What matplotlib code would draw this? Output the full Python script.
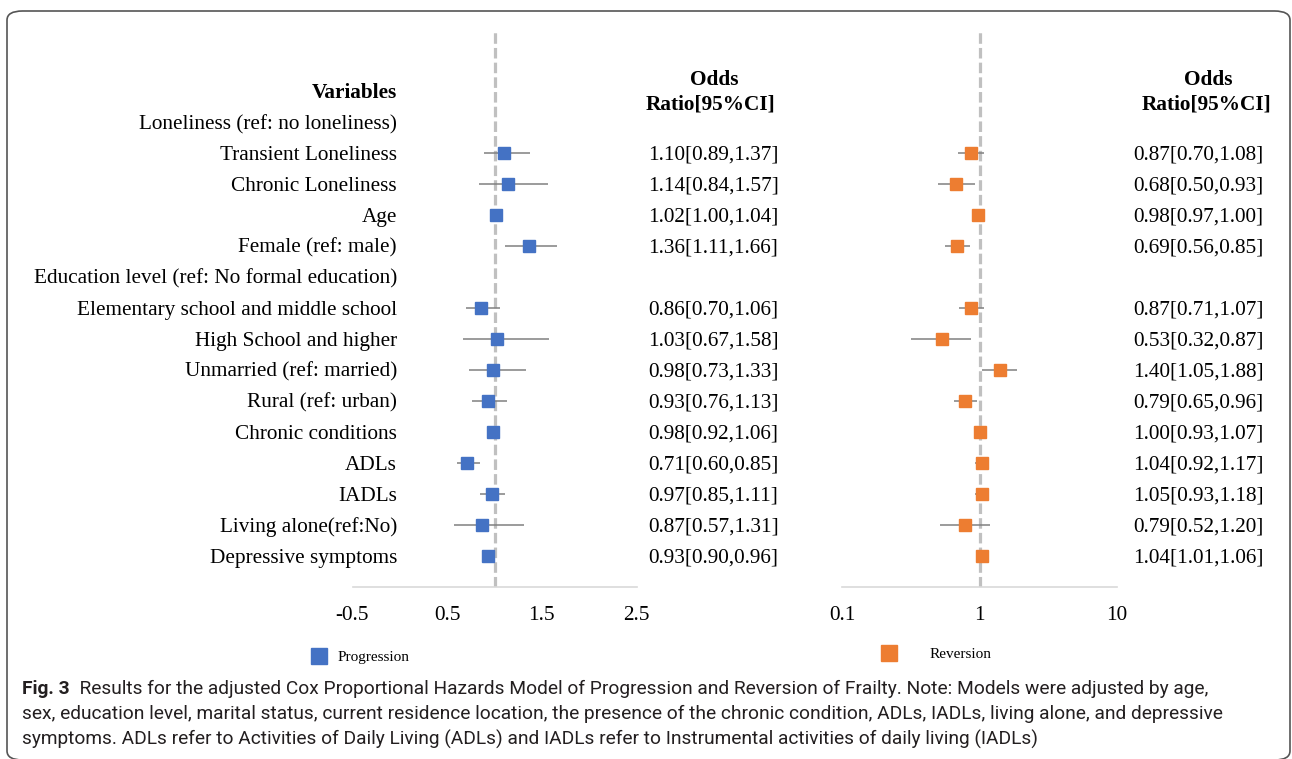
import numpy as np
import matplotlib.pyplot as plt
import matplotlib.transforms as mtransforms
from matplotlib.patches import FancyBboxPatch

plt.rcParams['font.family'] = ['Liberation Serif', 'DejaVu Serif']

variables = ['Loneliness (ref: no loneliness)', 'Transient Loneliness',
             'Chronic Loneliness', 'Age', 'Female (ref: male)',
             'Education level (ref: No formal education)',
             'Elementary school and middle school', 'High School and higher',
             'Unmarried (ref: married)', 'Rural (ref: urban)',
             'Chronic conditions', 'ADLs', 'IADLs', 'Living alone(ref:No)',
             'Depressive symptoms']

nan = np.nan
prog_or = [nan, 1.10, 1.14, 1.02, 1.36, nan, 0.86, 1.03, 0.98, 0.93, 0.98, 0.71, 0.97, 0.87, 0.93]
prog_lo = [nan, 0.89, 0.84, 1.00, 1.11, nan, 0.70, 0.67, 0.73, 0.76, 0.92, 0.60, 0.85, 0.57, 0.90]
prog_hi = [nan, 1.37, 1.57, 1.04, 1.66, nan, 1.06, 1.58, 1.33, 1.13, 1.06, 0.85, 1.11, 1.31, 0.96]

rev_or = [nan, 0.87, 0.68, 0.98, 0.69, nan, 0.87, 0.53, 1.40, 0.79, 1.00, 1.04, 1.05, 0.79, 1.04]
rev_lo = [nan, 0.70, 0.50, 0.97, 0.56, nan, 0.71, 0.32, 1.05, 0.65, 0.93, 0.92, 0.93, 0.52, 1.01]
rev_hi = [nan, 1.08, 0.93, 1.00, 0.85, nan, 1.07, 0.87, 1.88, 0.96, 1.07, 1.17, 1.18, 1.20, 1.06]

left_ticks = [-0.5, 0.5, 1.5, 2.5]
right_ticks = [0.1, 1, 10]

caption = [
    'Results for the adjusted Cox Proportional Hazards Model of Progression and Reversion of Frailty. '
    'Note: Models were adjusted by age,',
    'sex, education level, marital status, current residence location, the presence of the chronic condition, '
    'ADLs, IADLs, living alone, and depressive',
    'symptoms. ADLs refer to Activities of Daily Living (ADLs) and IADLs refer to Instrumental activities '
    'of daily living (IADLs)',
]

BLUE = '#4472C4'
ORANGE = '#ED7D31'
W, H = 1292, 759


def px(x0, y0, x1, y1):
    return [x0 / W, 1 - y1 / H, (x1 - x0) / W, (y1 - y0) / H]


def fmt(o, l, h):
    return f'{o:.2f}[{l:.2f},{h:.2f}]'


fig = plt.figure(figsize=(W / 100, H / 100), dpi=100)

# rounded frame around the figure (bottom edge runs off the image)
fig.patches.append(FancyBboxPatch((7 / W, 1 - 760 / H), 1283 / W, 749 / H,
                                  boxstyle='round,pad=0,rounding_size=0.012',
                                  transform=fig.transFigure, fill=False,
                                  edgecolor='#555555', linewidth=1.2))

ax1 = fig.add_axes(px(352.5, 31, 636.5, 587))
ax2 = fig.add_axes(px(842, 31, 1117, 587))

y = np.arange(1, len(variables) + 1)
fs = 15.3
dy = 0.07  # nudge text down a little to sit on the marker rows

for ax, o, lo, hi, color in [(ax1, prog_or, prog_lo, prog_hi, BLUE),
                             (ax2, rev_or, rev_lo, rev_hi, ORANGE)]:
    o, lo, hi = map(np.array, (o, lo, hi))
    ax.axvline(1, color='#C0C0C0', lw=2.3, ls=(0, (3.3, 1.3)), zorder=1)
    ax.hlines(y, lo, hi, color='#808080', lw=1.1, zorder=2)
    ax.plot(o, y, 's', color=color, ms=8.5, zorder=3, linestyle='none')
    ax.set_ylim(16.0, -1.94)
    for s in ['top', 'left', 'right']:
        ax.spines[s].set_visible(False)
    ax.spines['bottom'].set_color('#D9D9D9')
    ax.spines['bottom'].set_linewidth(1.2)
    ax.set_yticks([])
    ax.tick_params(axis='x', length=0, pad=14, labelsize=fs)
    ax.patch.set_alpha(0)

ax1.set_xlim(-0.5, 2.5)
ax1.set_xticks(left_ticks)
ax1.set_xticklabels(['-0.5', '0.5', '1.5', '2.5'])

ax2.set_xscale('log')
ax2.set_xlim(0.1, 10)
ax2.set_xticks(right_ticks)
ax2.set_xticklabels(['0.1', '1', '10'])
ax2.minorticks_off()

# table text
tr = mtransforms.blended_transform_factory(fig.transFigure, ax1.transData)
fig.text(397 / W, dy, 'Variables', transform=tr, ha='right', va='center',
         fontsize=fs, fontweight='bold')
for yi, name in zip(y, variables):
    fig.text(397 / W, yi + dy, name, transform=tr, ha='right', va='center', fontsize=fs)
    k = yi - 1
    if not np.isnan(prog_or[k]):
        fig.text(648 / W, yi + dy, fmt(prog_or[k], prog_lo[k], prog_hi[k]),
                 transform=tr, ha='left', va='center', fontsize=fs)
        fig.text(1133 / W, yi + dy, fmt(rev_or[k], rev_lo[k], rev_hi[k]),
                 transform=tr, ha='left', va='center', fontsize=fs)

for cx_odds, cx_ratio in [(714, 711), (1208, 1207)]:
    fig.text(cx_odds / W, 1 - 80 / H, 'Odds', ha='center', va='center',
             fontsize=fs, fontweight='bold')
    fig.text(cx_ratio / W, 1 - 105 / H, 'Ratio[95%CI]', ha='center', va='center',
             fontsize=fs, fontweight='bold')

# legends
h1, = ax1.plot([], [], 's', color=BLUE, ms=11)
h2, = ax2.plot([], [], 's', color=ORANGE, ms=11)
fig.legend([h1], ['Progression'], loc='center left',
           bbox_to_anchor=(311 / W, 1 - 657 / H), frameon=False, fontsize=11,
           handlelength=1.0, handletextpad=0.75, borderpad=0, borderaxespad=0)
fig.legend([h2], ['Reversion'], loc='center left',
           bbox_to_anchor=(881 / W, 1 - 654 / H), frameon=False, fontsize=11,
           handlelength=1.0, handletextpad=2.2, borderpad=0, borderaxespad=0)

# caption
cap_font = ['Roboto', 'DejaVu Sans']
cap_fs = 13.8
t0 = fig.text(22 / W, 1 - 689 / H, 'Fig. 3', fontsize=cap_fs, fontweight='bold',
              family=cap_font, va='center', color='#231F20')
fig.add_artist(plt.Annotation('  ' + caption[0], xy=(1, 0.5), xycoords=t0,
                              va='center', fontsize=cap_fs, family=cap_font,
                              color='#231F20', annotation_clip=False))
for i, line in enumerate(caption[1:]):
    fig.text(22 / W, 1 - (714 + 25 * i) / H, line, fontsize=cap_fs,
             family=cap_font, va='center', color='#231F20')

fig.savefig('out.png', dpi=100)
